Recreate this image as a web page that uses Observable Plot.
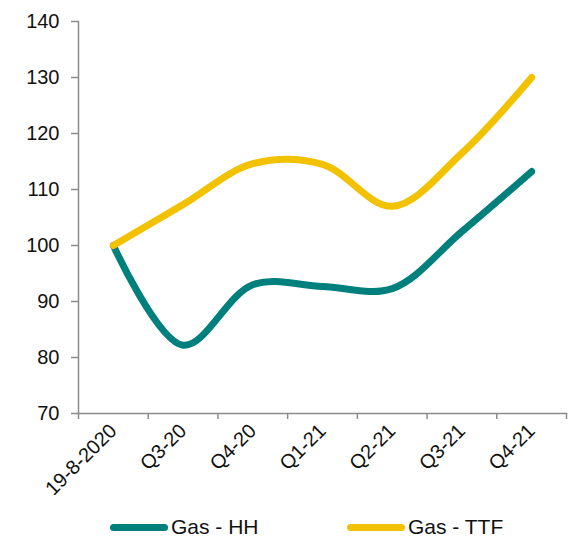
<!DOCTYPE html>
<html>
<head>
<meta charset="utf-8">
<script src="https://cdn.jsdelivr.net/npm/d3@7"></script>
<script src="https://cdn.jsdelivr.net/npm/@observablehq/plot@0.6"></script>
<style>
  html, body { margin: 0; padding: 0; background: #fff; }
  body { width: 571px; height: 540px; overflow: hidden; font-family: "Liberation Sans", Arial, sans-serif; }
  #legend { position: relative; height: 45px; }
  .item { position: absolute; top: 20px; display: flex; align-items: center; font-size: 21px; color: #111; }
  .swatch { width: 58px; height: 7px; border-radius: 4px; margin-right: 3px; }
</style>
</head>
<body>
<div id="chart"></div>
<div id="legend"></div>
<script>
const categories = ["19-8-2020", "Q3-20", "Q4-20", "Q1-21", "Q2-21", "Q3-21", "Q4-21"];
const gasHH  = [100, 82.2, 93.0, 92.7, 92.3, 102.5, 113.2];
const gasTTF = [100, 107.3, 114.6, 114.5, 107.0, 116.5, 130.0];
const seriesNames = ["Gas - HH", "Gas - TTF"];
const seriesColors = ["#00807D", "#F2C200"];
const yTicks = [70, 80, 90, 100, 110, 120, 130, 140];

const rows = [];
categories.forEach((c, i) => {
  rows.push({i, cat: c, series: seriesNames[0], value: gasHH[i]});
  rows.push({i, cat: c, series: seriesNames[1], value: gasTTF[i]});
});

const axisColor = "#8c8c8c";
const chart = Plot.plot({
  width: 571,
  height: 495,
  marginLeft: 78,
  marginRight: 5,
  marginTop: 21,
  marginBottom: 82,
  style: {fontFamily: "'Liberation Sans', Arial, sans-serif", fontSize: "20px", color: "#111"},
  x: {type: "linear", domain: [-0.5, categories.length - 0.5]},
  y: {domain: [70, 140]},
  color: {domain: seriesNames, range: seriesColors},
  marks: [
    Plot.axisY({ticks: yTicks, tickSize: 7, stroke: axisColor, strokeWidth: 1.5, strokeOpacity: 1, tickFormat: () => "", label: null}),
    Plot.axisY({ticks: yTicks, tickSize: 0, tickPadding: 19, label: null, fontSize: 20, fill: "#111"}),
    Plot.axisX({ticks: d3.range(-0.5, categories.length), tickSize: 6, stroke: axisColor, strokeWidth: 1.5, strokeOpacity: 1, tickFormat: () => "", label: null}),
    Plot.axisX({ticks: d3.range(categories.length), tickSize: 0, tickPadding: 14, tickRotate: -45, tickFormat: i => categories[i], label: null, fontSize: 20, fill: "#111"}),
    Plot.frame({anchor: "left", stroke: axisColor, strokeWidth: 1.5}),
    Plot.frame({anchor: "bottom", stroke: axisColor, strokeWidth: 1.5}),
    Plot.line(rows, {x: "i", y: "value", z: "series", stroke: "series", strokeWidth: 7, curve: "catmull-rom", strokeLinecap: "round", strokeLinejoin: "round"})
  ]
});
document.getElementById("chart").appendChild(chart);

const legend = document.getElementById("legend");
const legendX = [110, 347];
seriesNames.forEach((name, k) => {
  const item = document.createElement("div");
  item.className = "item";
  item.style.left = legendX[k] + "px";
  const sw = document.createElement("div");
  sw.className = "swatch";
  sw.style.background = seriesColors[k];
  const label = document.createElement("span");
  label.textContent = name;
  item.appendChild(sw);
  item.appendChild(label);
  legend.appendChild(item);
});
</script>
</body>
</html>
